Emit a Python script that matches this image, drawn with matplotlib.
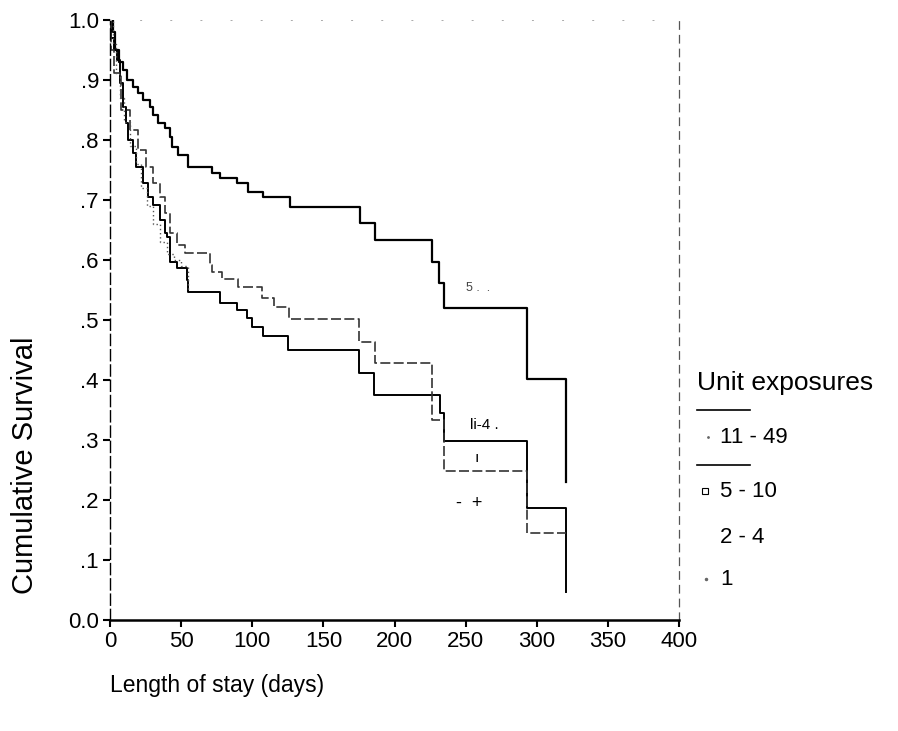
import numpy as np
import matplotlib.pyplot as plt
from matplotlib.lines import Line2D

plt.rcParams['font.family'] = ['Liberation Sans', 'DejaVu Sans']

# curve di sopravvivenza (giorni, sopravvivenza cumulativa)
t_11_49 = [0, 2, 3.5, 6, 9, 12, 16, 20, 23, 28, 30, 34, 39, 42, 43.5, 48, 55, 72, 77, 89,
           97, 107.5, 126.5, 176, 186, 226, 231, 235, 293, 320.5]
s_11_49 = [1.0, 0.98, 0.95, 0.93, 0.917, 0.90, 0.888, 0.878, 0.867, 0.855, 0.842, 0.828, 0.82,
           0.805, 0.789, 0.775, 0.755, 0.745, 0.737, 0.728, 0.713, 0.705, 0.688, 0.662, 0.633,
           0.597, 0.562, 0.52, 0.402, 0.23]

t_5_10 = [0, 1, 3, 5, 7, 9, 11, 12.5, 16, 18, 23, 27, 30, 35, 39, 40, 42, 42.5, 47, 54, 55,
          77, 89, 96, 100, 107.5, 125, 175, 185.5, 232, 235, 293, 320.5]
s_5_10 = [1.0, 0.97, 0.95, 0.933, 0.895, 0.855, 0.828, 0.80, 0.778, 0.755, 0.728, 0.705, 0.692,
          0.667, 0.645, 0.638, 0.617, 0.597, 0.587, 0.567, 0.547, 0.528, 0.517, 0.503, 0.488,
          0.473, 0.45, 0.412, 0.375, 0.345, 0.298, 0.187, 0.047]

t_2_4 = [0, 1, 3, 8, 14, 20, 25, 30, 35, 39, 42, 47, 53, 70, 72, 79, 90, 107, 115, 126,
         175, 186, 226, 235, 293, 320.5]
s_2_4 = [1.0, 0.95, 0.912, 0.85, 0.817, 0.783, 0.755, 0.728, 0.705, 0.678, 0.645, 0.625,
         0.612, 0.592, 0.58, 0.568, 0.555, 0.537, 0.522, 0.502, 0.463, 0.428, 0.333, 0.248,
         0.145, 0.145]

t_1 = [0, 2, 4, 7, 10, 14, 18, 22, 26, 30, 35, 40, 45, 50, 55]
s_1 = [1.0, 0.96, 0.91, 0.87, 0.83, 0.79, 0.76, 0.72, 0.69, 0.66, 0.63, 0.61, 0.60, 0.59, 0.55]

gruppi = ["11 - 49", "5 - 10", "2 - 4", "1"]

fig = plt.figure(figsize=(8.98, 7.31), dpi=100)
ax = fig.add_axes([0.1225, 0.1518, 0.6337, 0.8208])

ax.step(t_11_49, s_11_49, where='post', color='black', lw=1.6)
ax.step(t_5_10, s_5_10, where='post', color='black', lw=1.4)
ax.step(t_2_4, s_2_4, where='post', color='#333333', lw=1.2, linestyle=(0, (6, 2)))
ax.step(t_1, s_1, where='post', color='#555555', lw=1.0, linestyle=(0, (1, 2)))

# segni "a mano" rimasti nella scansione
ax.text(250, 0.553, "5 .  .", fontsize=9, color='#444444', va='center')
ax.text(253, 0.325, "li-4 .", fontsize=11, color='black', va='center')
ax.text(256, 0.27, "ı", fontsize=11, color='black', va='center')
ax.text(243, 0.195, "-  +", fontsize=13, color='black', va='center')

ax.set_xlim(0, 400)
ax.set_ylim(0, 1.0)
ax.set_xticks(np.arange(0, 401, 50))
ax.set_yticks(np.arange(0, 1.01, 0.1))
ax.set_yticklabels(["0.0", ".1", ".2", ".3", ".4", ".5", ".6", ".7", ".8", ".9", "1.0"])
ax.tick_params(axis='both', direction='out', length=5, width=1.5, labelsize=16, pad=3)

ax.spines['bottom'].set_linewidth(1.8)
ax.spines['left'].set_linewidth(1.0)
ax.spines['left'].set_linestyle((0, (8, 3)))
ax.spines['right'].set_linewidth(0.9)
ax.spines['right'].set_linestyle((0, (6, 5)))
ax.spines['right'].set_color('#555555')
ax.spines['top'].set_linewidth(0.7)
ax.spines['top'].set_linestyle((0, (1, 30)))
ax.spines['top'].set_color('#aaaaaa')

fig.text(0.028, 0.364, "Cumulative Survival", rotation=90, ha='center', va='center', fontsize=21)
fig.text(0.1225, 0.062, "Length of stay (days)", ha='left', va='center', fontsize=16.5)

# legenda in stile SPSS, disegnata a mano
fig.text(0.776, 0.476, "Unit exposures", ha='left', va='center', fontsize=19)
fig.add_artist(Line2D([0.776, 0.835], [0.439, 0.439], color='black', lw=1.2))
fig.add_artist(Line2D([0.776, 0.835], [0.364, 0.364], color='black', lw=1.2))
y_testi = [0.401, 0.327, 0.265, 0.207]
for nome, yy in zip(gruppi, y_testi):
    fig.text(0.802, yy, nome, ha='left', va='center', fontsize=16)
fig.add_artist(Line2D([0.788], [0.402], marker='.', markersize=2, color='#666666'))
fig.add_artist(Line2D([0.785], [0.329], marker='s', markersize=4, mfc='white', mec='black', mew=0.8))
fig.add_artist(Line2D([0.786], [0.208], marker='.', markersize=3, color='#666666'))

fig.savefig("out.png", dpi=100)
